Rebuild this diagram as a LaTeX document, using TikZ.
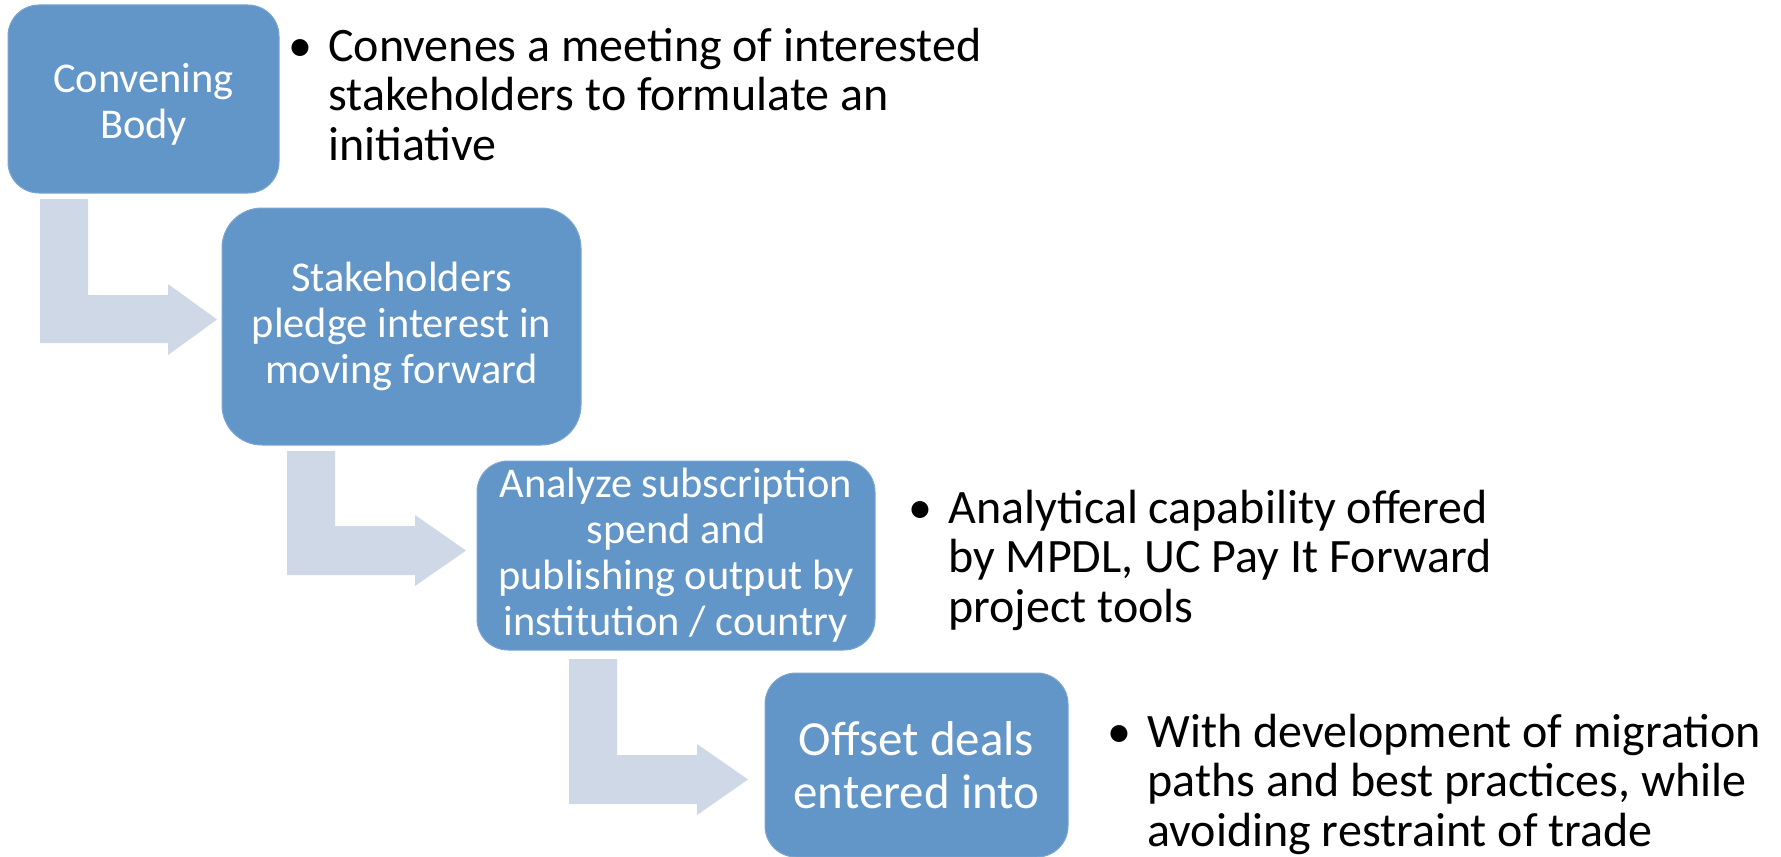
\documentclass[tikz,border=0pt]{standalone}
\usepackage{fontspec}
\setmainfont{Carlito}
\definecolor{boxblue}{HTML}{6295C8}
\definecolor{boxrim}{HTML}{7AA6D3}
\definecolor{arrowgray}{HTML}{CED8E6}
\begin{document}
\begin{tikzpicture}[x=0.5pt,y=-0.5pt,
  stepbox/.style={draw=boxrim, line width=0.5pt, fill=boxblue, text=white,
    align=center, inner sep=2pt},
  smallfont/.style={font=\fontsize{21.2pt}{23pt}\selectfont},
  smallbox/.style={stepbox, smallfont},
  bigbox/.style={stepbox, font=\fontsize{24.5pt}{26.5pt}\selectfont},
  boxlabel/.style={smallfont, text=white, align=center, inner sep=2pt},
  bent/.style={fill=arrowgray, draw=none},
  bullettext/.style={anchor=base west, inner sep=0pt, align=left,
    font=\fontsize{24pt}{24.75pt}\selectfont, text=black}
]
\useasboundingbox (0,0) rectangle (1781,856);
\fill[white] (0,0) rectangle (1781,856);

% bent arrows
\path[bent] (40,199) -- (88,199) -- (88,295) -- (168,295) -- (168,284)
  -- (217,319.5) -- (168,355) -- (168,343) -- (40,343) -- cycle;
\path[bent] (287,451) -- (335,451) -- (335,526) -- (415,526) -- (415,515)
  -- (466,550.5) -- (415,586) -- (415,575) -- (287,575) -- cycle;
\path[bent] (569,659) -- (617,659) -- (617,755) -- (697,755) -- (697,744)
  -- (748,779.5) -- (697,815) -- (697,804) -- (569,804) -- cycle;

% boxes
\node[smallbox, minimum width=135.5pt, minimum height=94pt, rounded corners=15.5pt]
  (b1) at (143.5,99) {};
\node[boxlabel] (b1t) at (143.5,104) {Convening\\Body};
\node[smallbox, minimum width=179.5pt, minimum height=118.5pt, rounded corners=20pt]
  (b2) at (401.5,326.5) {Stakeholders\\pledge interest in\\moving forward};
\node[smallbox, minimum width=199pt, minimum height=94.5pt, rounded corners=15.5pt]
  (b3) at (676,555.5) {Analyze subscription\\spend and\\publishing output by\\institution / country};
\node[bigbox, minimum width=151.5pt, minimum height=92pt, rounded corners=15.5pt]
  (b4) at (916.5,765) {Offset deals\\entered into};

% bullet texts (anchor = baseline of last line)
\node[bullettext] (t1) at (328,160)
  {\llap{\textbullet\hspace{8pt}}Convenes a meeting of interested\\stakeholders to formulate an\\initiative};
\node[bullettext] (t3) at (948,622)
  {\llap{\textbullet\hspace{8pt}}Analytical capability offered\\by MPDL, UC Pay It Forward\\project tools};
\node[bullettext] (t4) at (1147,846)
  {\llap{\textbullet\hspace{8pt}}With development of migration\\paths and best practices, while\\avoiding restraint of trade};
\end{tikzpicture}
\end{document}
